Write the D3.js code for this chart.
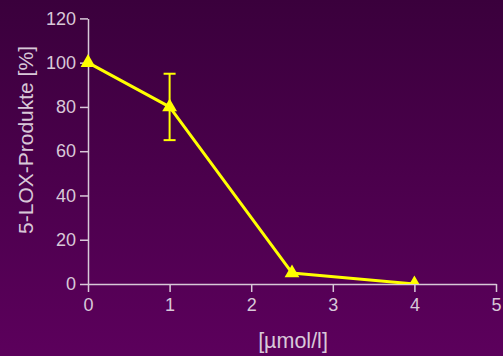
<!DOCTYPE html>
<html><head><meta charset="utf-8">
<script src="https://cdn.jsdelivr.net/npm/d3@7"></script>
<style>html,body{margin:0;padding:0;overflow:hidden;}svg{display:block;}</style>
</head><body>
<svg id="c" width="503" height="356"></svg>
<script>
const concentrations = [0, 1, 2.5, 4];
const products = [100, 80, 5, 0];
const errLow = [null, 65, null, null];
const errHigh = [null, 95, null, null];
const xTicks = [0, 1, 2, 3, 4, 5];
const yTicks = [0, 20, 40, 60, 80, 100, 120];
const xLabel = "[µmol/l]";
const yLabel = "5-LOX-Produkte [%]";

const svg = d3.select("#c");
const W = 503, H = 356;
const defs = svg.append("defs");
const g = defs.append("linearGradient").attr("id","bg").attr("x1",0).attr("y1",0).attr("x2",0).attr("y2",1);
g.append("stop").attr("offset","0%").attr("stop-color","#3a003c");
g.append("stop").attr("offset","100%").attr("stop-color","#5c005c");
svg.append("rect").attr("width",W).attr("height",H).attr("fill","url(#bg)");

const x = d3.scaleLinear().domain([0,5]).range([88,496]);
const y = d3.scaleLinear().domain([0,120]).range([284,18.4]);
const axisColor = "#d8c8d8";
const font = "'Liberation Sans', Arial, sans-serif";

defs.append("clipPath").attr("id","plot").append("rect")
  .attr("x",0).attr("y",0).attr("width",W).attr("height",y(0));

const xa = svg.append("g").attr("transform",`translate(0,${y(0)})`)
  .call(d3.axisBottom(x).tickValues(xTicks).tickSize(8).tickPadding(6).tickSizeOuter(0).tickFormat(d3.format("d")));
const ya = svg.append("g").attr("transform",`translate(${x(0)},0)`)
  .call(d3.axisLeft(y).tickValues(yTicks).tickSize(8).tickPadding(4).tickSizeOuter(0).tickFormat(d3.format("d")));
[xa,ya].forEach(a=>{
  a.attr("font-size",null).attr("font-family",null);
  a.select(".domain").attr("stroke",axisColor).attr("stroke-width",1.5);
  a.selectAll(".tick line").attr("stroke",axisColor).attr("stroke-width",1.5);
  a.selectAll(".tick text").attr("fill",axisColor)
    .style("font-family",font).style("font-size","18px");
});

const yellow = "#ffff00";
const pts = concentrations.map((c,i)=>({c, v:products[i], lo:errLow[i], hi:errHigh[i]}));

const plot = svg.append("g").attr("clip-path","url(#plot)");
pts.filter(d=>d.lo!=null).forEach(d=>{
  const eb = plot.append("g").attr("stroke",yellow).attr("stroke-width",2);
  eb.append("line").attr("x1",x(d.c)).attr("x2",x(d.c)).attr("y1",y(d.lo)).attr("y2",y(d.hi));
  eb.append("line").attr("x1",x(d.c)-6).attr("x2",x(d.c)+6).attr("y1",y(d.lo)).attr("y2",y(d.lo));
  eb.append("line").attr("x1",x(d.c)-6).attr("x2",x(d.c)+6).attr("y1",y(d.hi)).attr("y2",y(d.hi));
});
plot.append("path").datum(pts)
  .attr("d", d3.line().x(d=>x(d.c)).y(d=>y(d.v)))
  .attr("fill","none").attr("stroke",yellow).attr("stroke-width",3).attr("stroke-linejoin","round");
plot.selectAll(".m").data(pts).enter().append("path")
  .attr("d", d3.symbol().type(d3.symbolTriangle).size(95))
  .attr("transform", d=>`translate(${x(d.c)},${y(d.v)})`)
  .attr("fill",yellow);

svg.append("text").attr("x",293).attr("y",348).attr("text-anchor","middle")
  .attr("fill",axisColor).style("font-family",font).style("font-size","21.5px").text(xLabel);
svg.append("text").attr("transform","translate(33,140) rotate(-90)").attr("text-anchor","middle")
  .attr("fill",axisColor).style("font-family",font).style("font-size","21px").text(yLabel);
</script>
</body></html>
